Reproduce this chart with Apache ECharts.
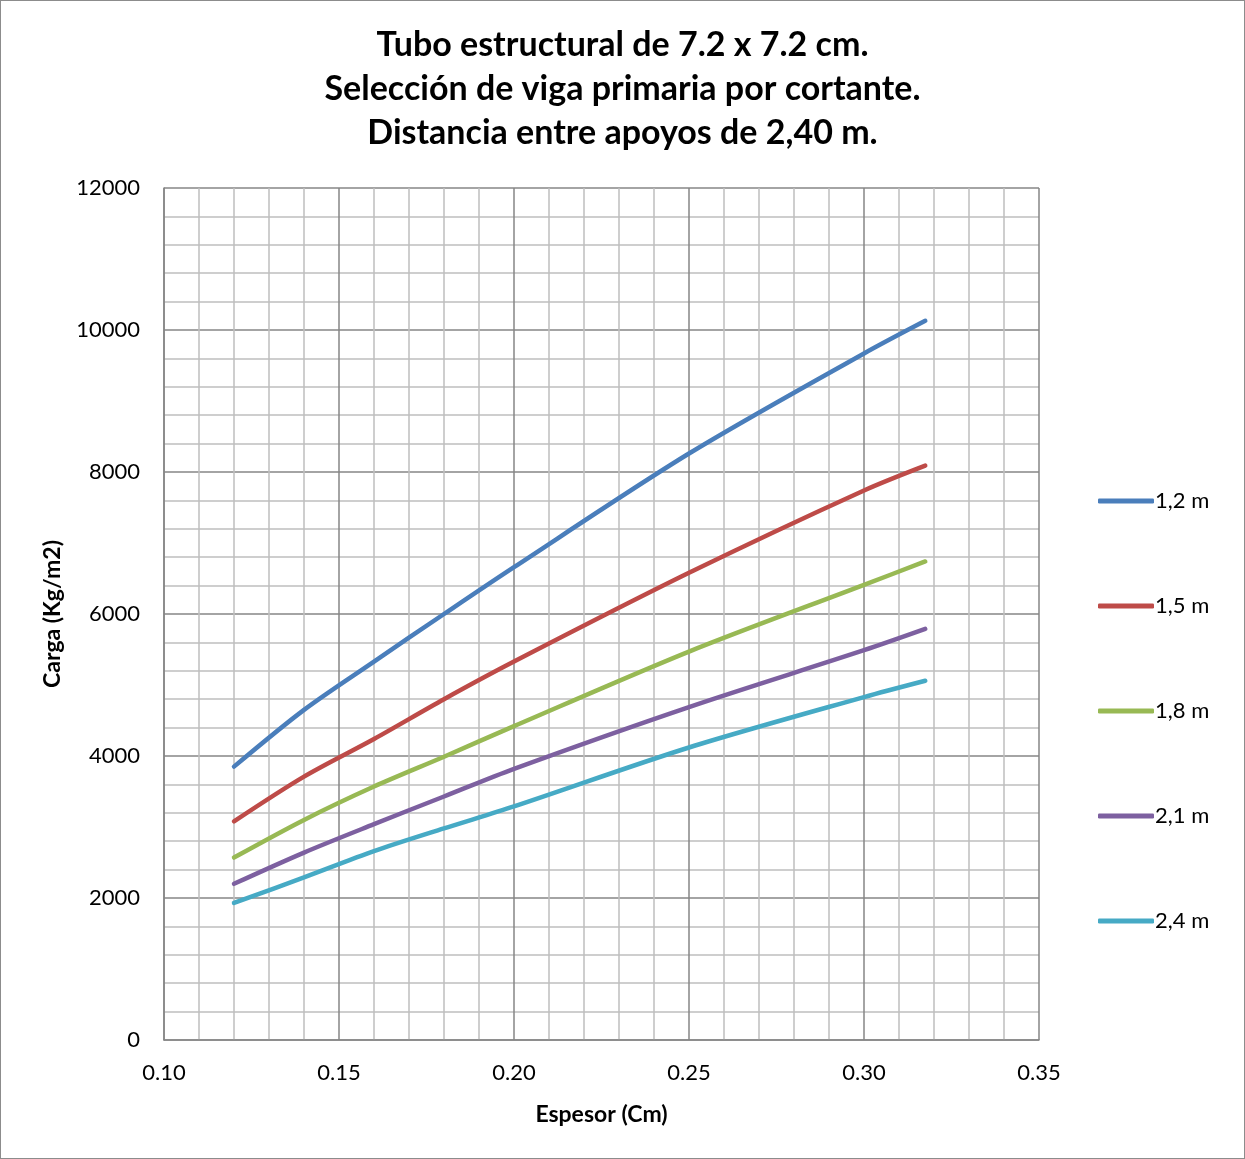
<!DOCTYPE html>
<html>
<head>
<meta charset="utf-8">
<title>Tubo estructural</title>
<script src="https://cdn.jsdelivr.net/npm/echarts@6/dist/echarts.min.js"></script>
<style>
  html, body { margin: 0; padding: 0; background: #fff; }
  #chart {
    width: 1245px; height: 1159px;
    box-sizing: border-box;
    border: 1.5px solid #8c8c8c;
  }
</style>
</head>
<body>
<div id="chart"></div>
<script>
// espesor (cm)
const espesor = [0.12, 0.14, 0.16, 0.18, 0.20, 0.25, 0.30, 0.3175];

// carga (Kg/m2) por distancia entre apoyos
const carga12 = [3850, 4650, 5330, 6000, 6660, 8260, 9670, 10130];
const carga15 = [3080, 3710, 4240, 4800, 5330, 6580, 7740, 8090];
const carga18 = [2570, 3100, 3570, 3990, 4420, 5470, 6410, 6740];
const carga21 = [2200, 2640, 3040, 3430, 3820, 4690, 5490, 5790];
const carga24 = [1930, 2290, 2660, 2980, 3290, 4120, 4830, 5060];

const nombres = ['1,2 m', '1,5 m', '1,8 m', '2,1 m', '2,4 m'];
const colores = ['#4a7ebb', '#be4b48', '#98b954', '#7d60a0', '#46aac5'];

const font = 'Lato, "Open Sans", sans-serif';

function pares(ys) {
  return espesor.map(function (x, i) { return [x, ys[i]]; });
}

const chart = echarts.init(document.getElementById('chart'));

const series = [carga12, carga15, carga18, carga21, carga24].map(function (ys, i) {
  return {
    name: nombres[i],
    type: 'line',
    data: pares(ys),
    smooth: 0.3,
    showSymbol: false,
    lineStyle: { width: 4.5, color: colores[i], cap: 'round' },
    itemStyle: { color: colores[i] }
  };
});

const option = {
  animation: false,
  backgroundColor: '#fff',
  title: {
    text: 'Tubo estructural de 7.2 x 7.2 cm.\nSelección de viga primaria por cortante.\nDistancia entre apoyos de 2,40 m.',
    left: 'center',
    top: 17,
    textStyle: {
      fontFamily: font,
      fontSize: 34,
      fontWeight: 'bold',
      lineHeight: 44,
      color: '#000'
    }
  },
  legend: {
    orient: 'vertical',
    left: 1092,
    top: 483,
    itemWidth: 56,
    itemHeight: 5,
    itemGap: 81,
    icon: 'roundRect',
    data: nombres,
    textStyle: { fontFamily: font, fontSize: 22, color: '#000', lineHeight: 24, padding: [0, 0, 0, -4] }
  },
  grid: { left: 163, top: 187, right: 205, bottom: 118 },
  xAxis: {
    type: 'value',
    min: 0.10,
    max: 0.35,
    interval: 0.05,
    name: 'Espesor (Cm)',
    nameLocation: 'middle',
    nameGap: 63,
    nameTextStyle: { fontFamily: font, fontSize: 23, fontWeight: 'bold', color: '#000' },
    axisLine: { lineStyle: { color: '#868686', width: 1.5 } },
    axisTick: { show: false },
    axisLabel: {
      margin: 22, fontFamily: font, fontSize: 22, color: '#000',
      formatter: function (v) { return v.toFixed(2); }
    },
    splitLine: { show: true, lineStyle: { color: '#868686', width: 1.5 } },
    minorTick: { show: false, splitNumber: 5 },
    minorSplitLine: { show: true, lineStyle: { color: '#bfbfbf', width: 1.5 } }
  },
  yAxis: {
    type: 'value',
    min: 0,
    max: 12000,
    interval: 2000,
    name: 'Carga (Kg/m2)',
    nameLocation: 'middle',
    nameGap: 100,
    nameTextStyle: { fontFamily: font, fontSize: 23, fontWeight: 'bold', color: '#000' },
    axisLine: { show: true, lineStyle: { color: '#868686', width: 1.5 } },
    axisTick: { show: false },
    axisLabel: {
      margin: 24, fontFamily: font, fontSize: 22, color: '#000',
      formatter: function (v) { return String(v); }
    },
    splitLine: { show: true, lineStyle: { color: '#868686', width: 1.5 } },
    minorTick: { show: false, splitNumber: 5 },
    minorSplitLine: { show: true, lineStyle: { color: '#bfbfbf', width: 1.5 } }
  },
  series: series
};

chart.setOption(option);
</script>
</body>
</html>
